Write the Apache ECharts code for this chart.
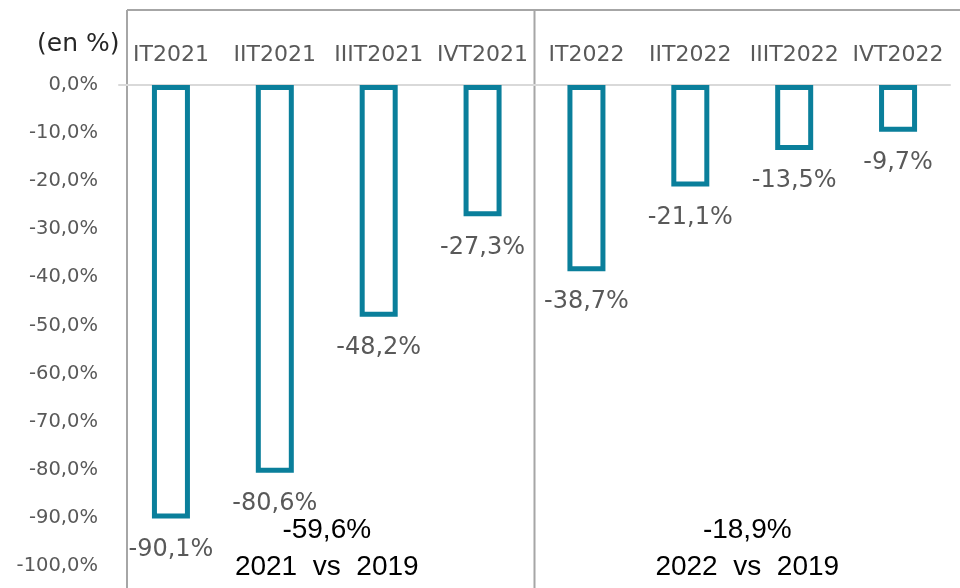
<!DOCTYPE html>
<html>
<head>
<meta charset="utf-8">
<script src="https://cdn.jsdelivr.net/npm/echarts@6/dist/echarts.min.js"></script>
<style>
html,body{margin:0;padding:0;background:#fff;}
#chart{width:960px;height:588px;}
</style>
</head>
<body>
<div id="chart"></div>
<script>
var categories = ['IT2021','IIT2021','IIIT2021','IVT2021','IT2022','IIT2022','IIIT2022','IVT2022'];
var values = [-90.1, -80.6, -48.2, -27.3, -38.7, -21.1, -13.5, -9.7];
var groupSizes = [4, 4];
var groupTotals = [-59.6, -18.9];
var groupNames = ['2021  vs  2019', '2022  vs  2019'];
var yMin = -100, yMax = 0, yStep = 10;
var unitLabel = '(en %)';

function fmt(v){ return v.toFixed(1).replace('.', ',') + '%'; }

var chart = echarts.init(document.getElementById('chart'), null, {renderer:'canvas'});
var gray = '#595959';
var mainFont = 'DejaVu Sans';
var gridLeft = 119, gridRight = 10;
chart.setOption({
  animation:false,
  backgroundColor:'#fff',
  grid:{left:gridLeft, right:gridRight, top:85, bottom:22},
  title:{text:unitLabel, left:32, top:27, textStyle:{fontFamily:mainFont, fontSize:25, fontWeight:'normal', color:'#262626'}},
  xAxis:{
    type:'category', position:'top', data:categories,
    axisTick:{show:false},
    axisLine:{lineStyle:{color:'#d9d9d9', width:2}},
    axisLabel:{fontFamily:mainFont, fontSize:22, color:gray, margin:19, interval:0}
  },
  yAxis:{
    type:'value', min:yMin, max:yMax, interval:yStep,
    splitLine:{show:false}, axisLine:{show:false}, axisTick:{show:false},
    axisLabel:{fontFamily:mainFont, fontSize:19.5, color:gray, margin:21, formatter:function(v){return fmt(v);}}
  },
  series:[{
    type:'bar', data:values, barWidth:38,
    itemStyle:{color:'#fff', borderColor:'#0A7F9B', borderWidth:5},
    label:{show:true, position:'bottom', distance:19, fontFamily:mainFont, fontSize:24, color:gray,
      formatter:function(p){return fmt(p.value);}}
  }]
});

// frame and group annotations computed from the category scale
var pxOf = function(i){ return chart.convertToPixel({xAxisIndex:0}, categories[i]); };
var band = pxOf(1) - pxOf(0);
var graphics = [];
var lineStyle = {stroke:'#a6a6a6', lineWidth:2};
var topY = 10;
graphics.push({type:'line', shape:{x1:127, y1:topY, x2:960, y2:topY}, style:lineStyle, silent:true});
graphics.push({type:'line', shape:{x1:127, y1:topY, x2:127, y2:588}, style:lineStyle, silent:true});
var start = 0;
for (var g = 0; g < groupSizes.length; g++) {
  var end = start + groupSizes[g] - 1;
  var left = pxOf(start) - band/2;
  var right = g === groupSizes.length - 1 ? 960 : pxOf(end) + band/2;
  if (g > 0) {
    graphics.push({type:'line', shape:{x1:left, y1:topY, x2:left, y2:588}, style:lineStyle, silent:true});
  }
  var cx = (left + right) / 2;
  graphics.push({type:'text', x:cx, y:530, style:{text:fmt(groupTotals[g]), fontFamily:'Liberation Sans', fontSize:28, fill:'#000', align:'center', verticalAlign:'middle'}});
  graphics.push({type:'text', x:cx, y:567, style:{text:groupNames[g], fontFamily:'Liberation Sans', fontSize:28, fill:'#000', align:'center', verticalAlign:'middle'}});
  start = end + 1;
}
chart.setOption({graphic:graphics});
</script>
</body>
</html>
